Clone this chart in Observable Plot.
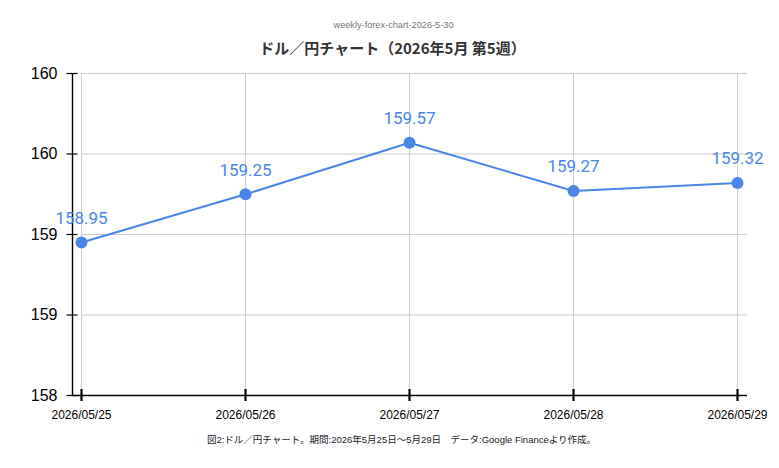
<!DOCTYPE html>
<html>
<head>
<meta charset="utf-8">
<script src="https://cdn.jsdelivr.net/npm/d3@7"></script>
<script src="https://cdn.jsdelivr.net/npm/@observablehq/plot@0.6"></script>
<style>
  html, body { margin: 0; padding: 0; background: #fff; }
  #wrap { position: relative; width: 779px; height: 468px; overflow: hidden; }
  .t { position: absolute; left: 0; width: 779px; text-align: center; white-space: nowrap; }
  #sub { top: 21px; font: 9.2px "Liberation Sans", Arial, sans-serif; line-height: 9px; color: #777; left: 4px; }
  #title { top: 40px; font: bold 15px "Noto Sans CJK JP", sans-serif; line-height: 15px; color: #333; left: 3px; }
  #cap { top: 435px; font: 9.5px "Liberation Sans", "Noto Sans CJK JP", sans-serif; line-height: 10px; color: #222; left: 12px; }
  #plot { position: absolute; left: 0; top: 0; }
</style>
</head>
<body>
<div id="wrap">
  <div id="plot"></div>
  <div class="t" id="sub"></div>
  <div class="t" id="title"></div>
  <div class="t" id="cap"></div>
</div>
<script>
const subtitle = "weekly-forex-chart-2026-5-30";
const title = "ドル／円チャート（2026年5月 第5週）";
const caption = "図2:ドル／円チャート。期間:2026年5月25日～5月29日　データ:Google Financeより作成。";
const dates = ["2026/05/25", "2026/05/26", "2026/05/27", "2026/05/28", "2026/05/29"];
const values = [158.95, 159.25, 159.57, 159.27, 159.32];
const yTicks = [158, 158.5, 159, 159.5, 160];
const yDomain = [158, 160];

document.getElementById("sub").textContent = subtitle;
document.getElementById("title").textContent = title;
document.getElementById("cap").textContent = caption;

const data = dates.map((d, i) => ({i, date: d, value: values[i]}));
const idx = dates.map((d, i) => i);
const xMin = -9 / 164;
const xMax = dates.length - 1 + 10 / 164;
const blue = "#4a86e8";

const chart = Plot.plot({
  width: 779,
  height: 468,
  marginLeft: 72,
  marginRight: 32,
  marginTop: 73,
  marginBottom: 73,
  style: {fontFamily: "'Liberation Sans', Arial, sans-serif", background: "transparent"},
  x: {type: "linear", domain: [xMin, xMax], axis: null},
  y: {domain: yDomain, axis: null},
  marks: [
    Plot.ruleY(yTicks, {x1: 0, x2: xMax, stroke: "#cccccc", strokeWidth: 1}),
    Plot.ruleX(idx, {y1: yDomain[0], y2: yDomain[1], stroke: "#cccccc", strokeWidth: 1}),
    Plot.ruleX([xMin], {stroke: "#000", strokeWidth: 1.4}),
    Plot.ruleY([yDomain[0]], {stroke: "#000", strokeWidth: 1.4}),
    Plot.axisY({ticks: yTicks, tickFormat: d => d.toFixed(0), tickSize: 11, dx: 5.5, tickPadding: 9.5,
      fontSize: 16, stroke: "#000", strokeWidth: 1.2, color: "#000", label: null}),
    Plot.axisX({ticks: idx, tickFormat: i => dates[i], tickSize: 12, dy: -6, tickPadding: 9,
      fontSize: 12, stroke: "#000", strokeWidth: 2.2, color: "#000", label: null}),
    Plot.line(data, {x: "i", y: "value", stroke: blue, strokeWidth: 2}),
    Plot.dot(data, {x: "i", y: "value", r: 6, fill: blue, stroke: "none"}),
    Plot.text(data, {x: "i", y: "value", text: d => d.value.toFixed(2), dy: -24, fill: blue,
      fontSize: 17, fontFamily: "Roboto, sans-serif"})
  ]
});
document.getElementById("plot").appendChild(chart);
</script>
</body>
</html>
